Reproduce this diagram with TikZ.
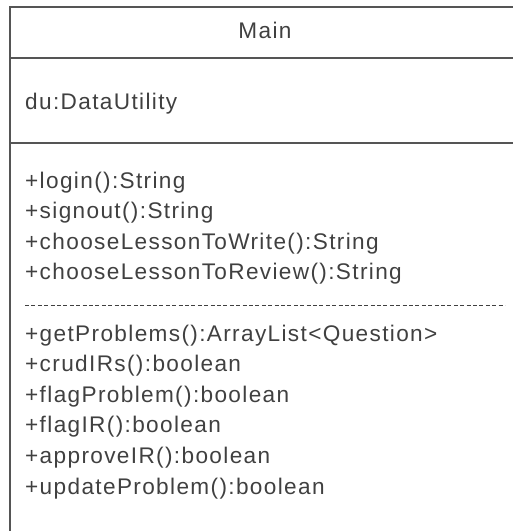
\documentclass[tikz,border=0pt]{standalone}
\usepackage{fontspec}
\setmainfont{Liberation Sans}[LetterSpace=6]
\usepackage{tikz}
\usepackage{xcolor}
\definecolor{umlline}{HTML}{555555}
\definecolor{umltext}{HTML}{404040}
\tikzset{member/.style={anchor=base west, inner sep=0pt, text=umltext, font=\fontsize{22.6}{27}\selectfont}}

\begin{document}
\begin{tikzpicture}[x=1pt, y=-1pt]
	% Frame and compartments:
	\clip (0, 0) rectangle (513, 531);
	\coordinate (C1) at (10, 7);
	\coordinate (C2) at (521, 545);
	\draw[umlline, line width=1.6pt] (C1) rectangle (C2);
	\coordinate (L1) at (10, 58);
	\coordinate (R1) at (521, 58);
	\draw[umlline, line width=1.6pt] (L1) -- (R1);
	\coordinate (L2) at (10, 143);
	\coordinate (R2) at (521, 143);
	\draw[umlline, line width=1.6pt] (L2) -- (R2);
	% Name and attribute:
	\node[member, anchor=base](N1) at (265, 38){Main};
	\node[member](N2) at (25, 109){du:DataUtility};
	% Operations:
	\node[member](N3) at (25, 188){+login():String};
	\node[member](N4) at (25, 218.6){+signout():String};
	\node[member](N5) at (25, 249.2){+chooseLessonToWrite():String};
	\node[member](N6) at (25, 279.8){+chooseLessonToReview():String};
	\coordinate (D1) at (25, 305);
	\coordinate (D2) at (505, 305);
	\draw[umltext, line width=0.9pt, dash pattern=on 4pt off 2.4pt] (D1) -- (D2);
	\node[member](N7) at (25, 341){+getProblems():ArrayList<Question>};
	\node[member](N8) at (25, 371.6){+crudIRs():boolean};
	\node[member](N9) at (25, 402.2){+flagProblem():boolean};
	\node[member](N10) at (25, 432.8){+flagIR():boolean};
	\node[member](N11) at (25, 463.4){+approveIR():boolean};
	\node[member](N12) at (25, 494){+updateProblem():boolean};
\end{tikzpicture}
\end{document}
